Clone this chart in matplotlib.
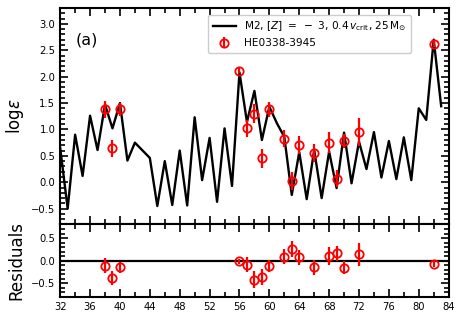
import numpy as np
import matplotlib
matplotlib.use('Agg')
import matplotlib.pyplot as plt
from matplotlib.ticker import MultipleLocator

# model M2 (Z=43 not in the model)
z_mod = [32,33,34,35,36,37,38,39,40,41,42,44,45,46,47,48,49,50,51,52,53,54,55,56,57,58,
         59,60,61,62,63,64,65,66,67,68,69,70,71,72,73,74,75,76,77,78,79,80,81,82,83]
logeps_mod = [0.65,-0.5,0.9,0.12,1.26,0.61,1.47,1.02,1.5,0.41,0.75,0.46,-0.45,0.4,-0.43,0.6,
              -0.44,1.23,0.04,0.84,-0.37,1.02,-0.07,2.08,1.14,1.73,0.8,1.43,1.12,0.86,-0.24,
              0.57,-0.32,0.61,-0.3,0.58,-0.11,0.94,-0.02,0.77,0.25,0.95,0.09,0.78,0.06,0.85,
              0.04,1.4,1.18,2.7,1.44]

# HE0338-3945
z_obs = [38,39,40,56,57,58,59,60,62,63,64,66,68,69,70,72,82]
logeps_obs = [1.38,0.64,1.38,2.11,1.02,1.3,0.45,1.38,0.82,0.02,0.7,0.56,0.75,0.07,0.78,0.95,2.62]
err_obs = [0.16,0.16,0.12,0.05,0.16,0.18,0.18,0.14,0.16,0.17,0.17,0.17,0.2,0.16,0.14,0.26,0.06]
resid = [-0.11,-0.38,-0.15,-0.02,-0.09,-0.42,-0.36,-0.12,0.09,0.26,0.07,-0.15,0.1,0.16,-0.16,0.14,-0.08]

fig, (ax, axr) = plt.subplots(2, 1, figsize=(4.63, 3.19), dpi=100, sharex=True,
                              gridspec_kw={'height_ratios': [3, 1], 'hspace': 0})
fig.subplots_adjust(left=0.13, right=0.969, top=0.975, bottom=0.07)

ax.plot(z_mod, logeps_mod, color='k', lw=1.7,
        label=r'M2, $[Z]\ =\ -\ 3$, $0.4\,v_{\rm crit}$, $25\,{\rm M}_{\odot}$')
ax.errorbar(z_obs, logeps_obs, yerr=err_obs, fmt='o', mfc='none', mec='r', ecolor='r',
            ms=6, mew=1.3, elinewidth=1.6, capsize=0, label='HE0338-3945')
ax.text(0.04, 0.85, '(a)', transform=ax.transAxes, fontsize=11.5, va='center')
ax.set_ylim(-0.8, 3.3)
ax.set_ylabel(r'log$\epsilon$', fontsize=12)
ax.legend(loc='upper right', bbox_to_anchor=(0.903, 0.967), borderaxespad=0,
          fontsize=7.6, handlelength=2.2, framealpha=1)
ax.yaxis.set_major_locator(MultipleLocator(0.5))
ax.yaxis.set_minor_locator(MultipleLocator(0.1))

axr.axhline(0, color='k', lw=1.6)
axr.errorbar(z_obs, resid, yerr=err_obs, fmt='o', mfc='none', mec='r', ecolor='r',
             ms=6, mew=1.3, elinewidth=1.6, capsize=0)
axr.set_ylim(-0.8, 0.8)
axr.set_ylabel('Residuals', fontsize=12)
axr.yaxis.set_major_locator(MultipleLocator(0.5))
axr.yaxis.set_minor_locator(MultipleLocator(0.1))
axr.set_xlim(32, 84)
axr.xaxis.set_major_locator(MultipleLocator(4))
axr.xaxis.set_minor_locator(MultipleLocator(2))

for a in (ax, axr):
    a.tick_params(which='both', direction='in', top=True, right=True, labelsize=7.2, width=1.2)
    a.tick_params(which='major', length=6)
    a.tick_params(which='minor', length=3.5)
    for s in a.spines.values():
        s.set_linewidth(1.5)
fig.align_ylabels([ax, axr])

plt.savefig('out.png')
